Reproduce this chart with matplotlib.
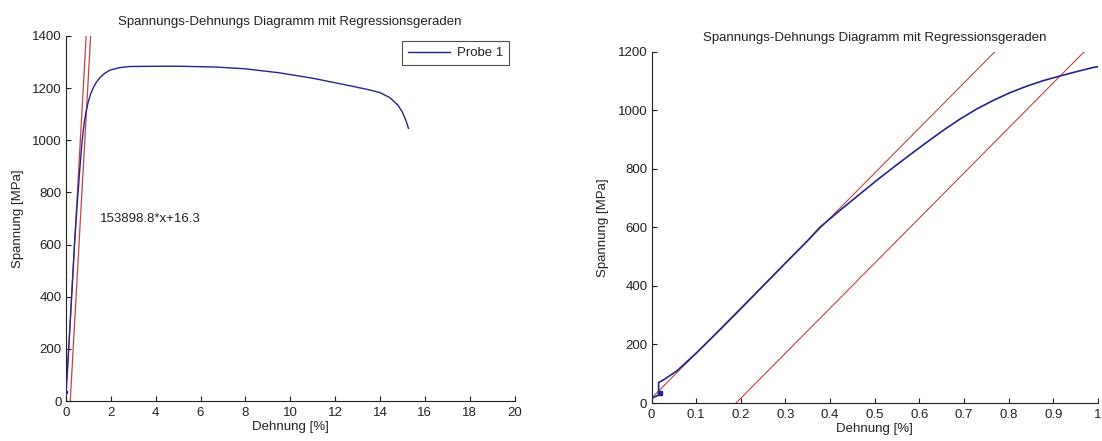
import matplotlib
matplotlib.use("Agg")
import matplotlib.pyplot as plt
import numpy as np

plt.rcParams['font.family'] = ['Liberation Sans', 'DejaVu Sans']

# ---- data ----
strain = [0.0, 0.012, 0.016, 0.016, 0.03, 0.057, 0.10, 0.15, 0.20, 0.25, 0.30, 0.35,
          0.377, 0.422, 0.467, 0.504, 0.541, 0.579, 0.616, 0.654, 0.691, 0.728,
          0.766, 0.803, 0.840, 0.877, 0.915, 0.952, 0.989, 1.10, 1.22, 1.35, 1.52,
          1.73, 1.96, 2.41, 2.85, 4.2, 5.0, 6.7, 8.0, 9.5, 11.0, 12.5, 13.5, 14.0,
          14.45, 14.8, 15.0, 15.15, 15.27]
stress = [16, 24, 28, 70, 82, 110, 170, 245, 322, 400, 478, 555,
          600, 658, 714, 760, 804, 848, 890, 932, 970, 1004,
          1034, 1060, 1082, 1101, 1117, 1132, 1146, 1178, 1202, 1222, 1241,
          1257, 1269, 1279, 1283, 1284, 1284, 1281, 1274, 1259, 1238, 1212, 1194, 1183,
          1163, 1135, 1108, 1078, 1046]
dot_strain = [0.02]
dot_stress = [33]

slope = 1538.988      # MPa per %  (153898.8 per unit strain)
intercept = 16.3
offset = 0.2          # % plastic offset line

reg_label = "153898.8*x+16.3"
title = "Spannungs-Dehnungs Diagramm mit Regressionsgeraden"
xlab = "Dehnung [%]"
ylab = "Spannung [MPa]"
legend_label = "Probe 1"

left_xticks = list(range(0, 21, 2))
left_yticks = list(range(0, 1401, 200))
right_xticks = [0, 0.1, 0.2, 0.3, 0.4, 0.5, 0.6, 0.7, 0.8, 0.9, 1]
right_xticklabels = ["0", "0.1", "0.2", "0.3", "0.4", "0.5", "0.6", "0.7", "0.8", "0.9", "1"]
right_yticks = list(range(0, 1201, 200))

# ---- styling ----
FS = 9.5
TXT = '#222222'
BLUE = '#25258e'
RED = '#c24444'

fig = plt.figure(figsize=(11.02, 4.41), dpi=100)
axL = fig.add_axes([66/1102, 40/441, 448.5/1102, 365/441])
axR = fig.add_axes([651.5/1102, 38/441, 446.5/1102, 351.3/441])

xr = np.array([-0.05, 1.5])
reg1 = slope * xr + intercept
reg2 = slope * (xr - offset) + intercept

def style(ax):
    for s in ['top', 'right']:
        ax.spines[s].set_visible(False)
    for s in ['left', 'bottom']:
        ax.spines[s].set_color('#202020')
        ax.spines[s].set_linewidth(0.8)
    ax.tick_params(direction='in', length=3.5, width=0.8, colors='#202020',
                   labelsize=FS, labelcolor=TXT)
    ax.tick_params(axis='x', pad=4)
    ax.tick_params(axis='y', pad=3)
    ax.set_xlabel(xlab, fontsize=FS, color=TXT, labelpad=2)
    ax.set_ylabel(ylab, fontsize=FS, color=TXT, labelpad=6)
    ax.set_title(title, fontsize=FS, color=TXT, pad=8)

# left plot
axL.plot(strain, stress, color=BLUE, lw=1.0, label=legend_label, zorder=3)
axL.plot(dot_strain, dot_stress, 's', color=BLUE, ms=2, zorder=3)
axL.plot(xr, reg1, color=RED, lw=0.9, zorder=2)
axL.plot(xr, reg2, color=RED, lw=0.9, zorder=2)
axL.text(1.5, 700, reg_label, fontsize=FS, color=TXT, ha='left', va='center')
axL.set_xlim(0, 20)
axL.set_ylim(0, 1400)
axL.set_xticks(left_xticks)
axL.set_yticks(left_yticks)
style(axL)
leg = axL.legend(loc='upper right', fontsize=FS, frameon=True, fancybox=False,
                 edgecolor='#202020', borderaxespad=0.4, handlelength=3.2,
                 handletextpad=0.5, borderpad=0.45, bbox_to_anchor=(1.0, 1.0))
leg.get_frame().set_linewidth(0.8)
for t in leg.get_texts():
    t.set_color(TXT)

# right plot
axR.plot(strain, stress, color=BLUE, lw=1.2, zorder=3)
axR.plot(dot_strain, dot_stress, 's', color=BLUE, ms=2.5, zorder=3)
axR.plot(xr, reg1, color=RED, lw=0.8, zorder=2)
axR.plot(xr, reg2, color=RED, lw=0.8, zorder=2)
axR.set_xlim(0, 1)
axR.set_ylim(0, 1200)
axR.set_xticks(right_xticks)
axR.set_xticklabels(right_xticklabels)
axR.set_yticks(right_yticks)
style(axR)

fig.savefig('out.png', dpi=100, facecolor='white')
